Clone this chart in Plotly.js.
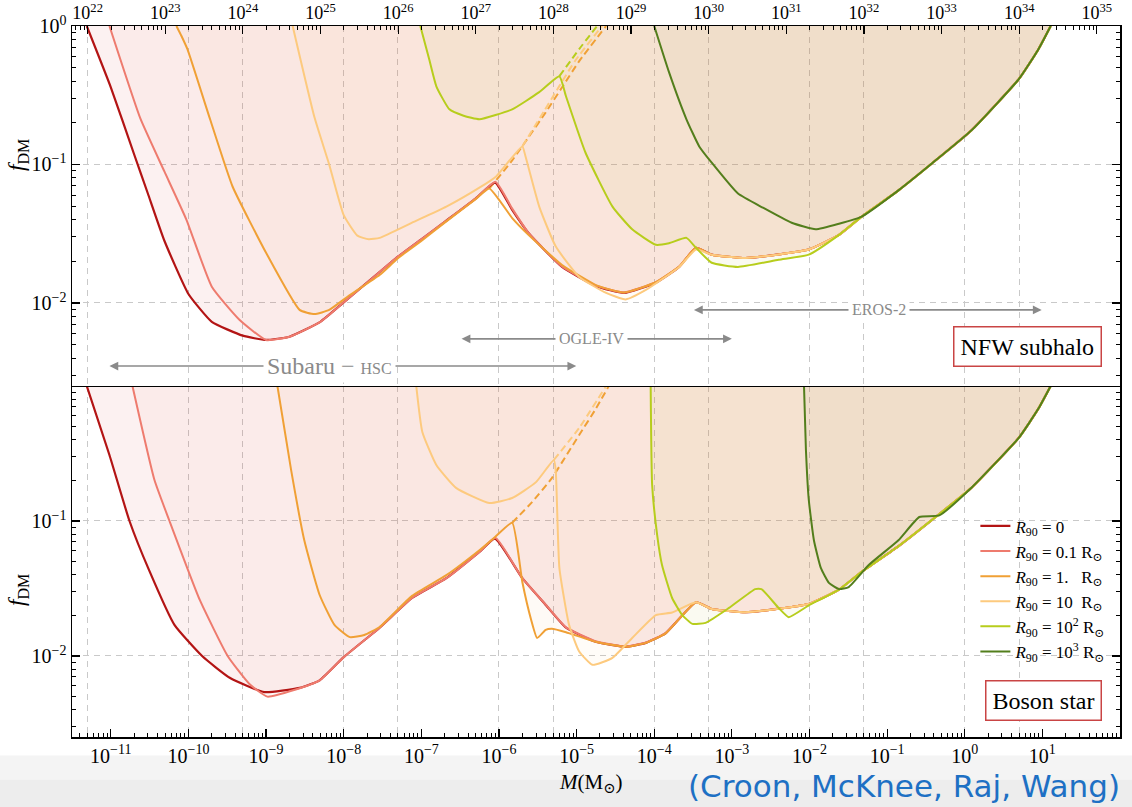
<!DOCTYPE html>
<html><head><meta charset="utf-8">
<script src="https://cdn.plot.ly/plotly-3.0.1.min.js"></script>
<style>html,body{margin:0;padding:0;background:#fff}#chart{width:1132px;height:807px}</style>
</head><body><div id="chart"></div>
<script>
// ---------- DATA (M in solar masses, f = f_DM) ----------
// shared EROS-2 tail of the constraints
const erosTailM = [5.5e-4, 1.5e-3, 4.0e-3, 9.8e-3, 2.4e-2, 4.7e-2, 0.14, 0.38, 1.23, 5.0, 8.9, 12.8];
const erosTailF = [0.0223, 0.0211, 0.0224, 0.0243, 0.031, 0.042, 0.065, 0.102, 0.177, 0.415, 0.68, 1];

// NFW subhalo (top panel)
const nfwR0M = [4.9e-12, 1e-11, 2e-11, 3e-11, 4.9e-11, 1e-10, 2e-10, 5e-10, 1e-9, 2e-9, 5e-9, 1e-8, 2e-8, 5e-8, 1e-7, 2e-7, 5e-7, 8.9e-7, 1.48e-6, 2.4e-6, 6.5e-6, 1.8e-5, 4.1e-5, 1.05e-4, 2.1e-4, 3.45e-4];
const nfwR0F = [1, 0.361, 0.118, 0.0617, 0.0281, 0.0116, 0.0073, 0.0058, 0.0054, 0.0057, 0.0073, 0.0101, 0.014, 0.0216, 0.0288, 0.0385, 0.0567, 0.074, 0.047, 0.032, 0.0182, 0.0132, 0.0118, 0.014, 0.0182, 0.025];
const nfwR01M = [9.6e-12, 2.4e-11, 4.9e-11, 9.4e-11, 2e-10, 4.5e-10, 1e-9, 2e-9, 5e-9, 1e-8, 2e-8, 5e-8, 1e-7, 2e-7, 5e-7, 9e-7, 1.48e-6, 2.4e-6, 6.5e-6, 1.8e-5, 4.1e-5, 1.05e-4, 2.1e-4, 3.45e-4];
const nfwR01F = [1, 0.215, 0.089, 0.040, 0.0131, 0.0076, 0.0054, 0.0057, 0.0073, 0.0101, 0.014, 0.0216, 0.0288, 0.0385, 0.0567, 0.075, 0.048, 0.032, 0.0183, 0.0133, 0.0119, 0.0141, 0.0183, 0.025];
const nfwR1M = [7e-11, 8.1e-11, 9.7e-11, 1.9e-10, 3.7e-10, 1e-9, 2.7e-9, 4.2e-9, 6.5e-9, 1.2e-8, 2.9e-8, 5e-8, 1e-7, 2e-7, 5e-7, 7.5e-7, 1.48e-6, 2.4e-6, 6.5e-6, 1.8e-5, 4.1e-5, 1.05e-4, 2.1e-4, 3.45e-4];
const nfwR1F = [1, 0.85, 0.68, 0.212, 0.0693, 0.023, 0.0089, 0.0083, 0.0089, 0.0114, 0.0159, 0.021, 0.028, 0.038, 0.056, 0.067, 0.041, 0.031, 0.0188, 0.0134, 0.0119, 0.0141, 0.0183, 0.025];
const nfwR1DashM = [7.5e-7, 1.48e-6, 2.4e-6, 4.0e-6, 6.5e-6, 1.08e-5, 2.4e-5];
const nfwR1DashF = [0.067, 0.107, 0.157, 0.238, 0.361, 0.557, 1];
const nfwR10M = [2.2e-9, 4.2e-9, 6.5e-9, 1e-8, 1.5e-8, 2.1e-8, 2.9e-8, 7.6e-8, 2.1e-7, 5.6e-7, 9.2e-7, 2e-6, 2.2e-6, 3.3e-6, 5.4e-6, 1.08e-5, 2.4e-5, 4.3e-5, 7.8e-5, 2.1e-4, 3.45e-4];
const nfwR10F = [1, 0.219, 0.1, 0.043, 0.0306, 0.0288, 0.0295, 0.038, 0.0496, 0.068, 0.082, 0.135, 0.114, 0.0496, 0.0255, 0.0154, 0.0118, 0.0106, 0.0124, 0.0182, 0.0243];
const nfwR10DashM = [2e-6, 3.8e-6, 9.5e-6, 2.13e-5];
const nfwR10DashF = [0.135, 0.242, 0.557, 1];
const nfwR100M = [9.7e-8, 1.26e-7, 1.56e-7, 2.3e-7, 3.5e-7, 5.6e-7, 1.48e-6, 3.3e-6, 6e-6, 7.3e-6, 1.3e-5, 2.9e-5, 5.2e-5, 1.05e-4, 1.55e-4, 2.6e-4, 3.45e-4, 5.5e-4, 1.2e-3, 4e-3, 9.8e-3, 2.4e-2, 4.7e-2, 0.14, 0.38, 1.23, 5.0, 8.9, 12.8];
const nfwR100F = [1, 0.577, 0.367, 0.25, 0.225, 0.212, 0.25, 0.333, 0.434, 0.311, 0.122, 0.0496, 0.034, 0.0263, 0.027, 0.0295, 0.025, 0.0195, 0.0182, 0.0205, 0.0223, 0.031, 0.042, 0.065, 0.102, 0.177, 0.415, 0.68, 1];
const nfwR100DashM = [6e-6, 1.08e-5, 1.84e-5];
const nfwR100DashF = [0.434, 0.681, 1];
const nfwR1000M = [1e-4, 1.55e-4, 2.6e-4, 3.8e-4, 5.5e-4, 1.2e-3, 2.5e-3, 5.9e-3, 1.2e-2, 2.4e-2, 4.7e-2, 0.14, 0.38, 1.23, 5.0, 8.9, 12.8];
const nfwR1000F = [1, 0.464, 0.212, 0.135, 0.103, 0.0616, 0.0488, 0.0379, 0.034, 0.0373, 0.042, 0.065, 0.102, 0.177, 0.415, 0.68, 1];

// Boson star (bottom panel)
const bsR0M = [4.9e-12, 9.6e-12, 1.74e-11, 3.1e-11, 6.6e-11, 1.5e-10, 3.4e-10, 9.5e-10, 2.7e-9, 4.9e-9, 1e-8, 2.9e-8, 7.6e-8, 2.1e-7, 5.6e-7, 8.9e-7, 2e-6, 4e-6, 7.3e-6, 1.8e-5, 4.3e-5, 7.8e-5, 1.4e-4, 3.45e-4];
const bsR0F = [1, 0.308, 0.1, 0.0434, 0.017, 0.01, 0.0069, 0.0054, 0.0058, 0.0066, 0.0098, 0.0162, 0.0269, 0.0377, 0.059, 0.074, 0.0377, 0.0239, 0.0162, 0.0127, 0.0117, 0.0125, 0.0147, 0.025];
const bsR01M = [1.9e-11, 3.65e-11, 5.7e-11, 1.4e-10, 3.2e-10, 6.1e-10, 1.04e-9, 2.3e-9, 4.9e-9, 1e-8, 2.9e-8, 7.6e-8, 2.1e-7, 5.6e-7, 9e-7, 2e-6, 4e-6, 7.3e-6, 1.8e-5, 4.3e-5, 7.8e-5, 1.4e-4, 3.45e-4];
const bsR01F = [1, 0.201, 0.1, 0.026, 0.01, 0.0062, 0.005, 0.0056, 0.0066, 0.0098, 0.0162, 0.0269, 0.0377, 0.059, 0.075, 0.0377, 0.024, 0.0163, 0.0128, 0.0118, 0.0126, 0.0148, 0.025];
const bsR1M = [1.4e-9, 2.1e-9, 3.1e-9, 4.9e-9, 7.6e-9, 1.2e-8, 1.84e-8, 2.9e-8, 7.6e-8, 2.1e-7, 5.6e-7, 8.9e-7, 1.48e-6, 2e-6, 2.6e-6, 3.1e-6, 4e-6, 4.8e-6, 7.3e-6, 1.8e-5, 4.3e-5, 7.8e-5, 1.4e-4, 3.45e-4];
const bsR1F = [1, 0.239, 0.0723, 0.0283, 0.017, 0.0138, 0.0143, 0.0164, 0.0279, 0.0397, 0.0608, 0.076, 0.097, 0.0353, 0.0185, 0.0136, 0.0156, 0.0159, 0.015, 0.0127, 0.0117, 0.0125, 0.0147, 0.025];
const bsR1DashM = [1.48e-6, 2.67e-6, 4.8e-6, 1.08e-5, 1.73e-5, 2.6e-5];
const bsR1DashF = [0.097, 0.138, 0.208, 0.434, 0.664, 1];
const bsR10M = [8.6e-8, 1.03e-7, 1.56e-7, 2.8e-7, 7.5e-7, 1.48e-6, 3e-6, 5.1e-6, 5.4e-6, 6e-6, 8e-6, 1.08e-5, 1.6e-5, 2.9e-5, 5.2e-5, 1.05e-4, 1.7e-4, 3.45e-4];
const bsR10F = [1, 0.456, 0.26, 0.176, 0.136, 0.148, 0.194, 0.283, 0.231, 0.045, 0.017, 0.0108, 0.0086, 0.0097, 0.0136, 0.0201, 0.021, 0.025];
const bsR10DashM = [5.1e-6, 1.08e-5, 2.4e-5];
const bsR10DashF = [0.283, 0.489, 1];
const bsR100M = [9.0e-5, 9.4e-5, 1.09e-4, 1.26e-4, 1.7e-4, 2.3e-4, 3.1e-4, 4.6e-4, 9.2e-4, 2.0e-3, 2.4e-3, 4.0e-3, 5.4e-3, 9.8e-3, 2.4e-2, 4.7e-2, 0.14, 0.38, 1.23, 5.0, 8.9, 12.8];
const bsR100F = [1, 0.185, 0.079, 0.0472, 0.0269, 0.0201, 0.0173, 0.0176, 0.0227, 0.0313, 0.0313, 0.0227, 0.0194, 0.0237, 0.031, 0.042, 0.065, 0.102, 0.177, 0.415, 0.68, 1];
const bsR1000M = [8.5e-3, 9.0e-3, 9.8e-3, 1.14e-2, 1.4e-2, 1.78e-2, 2.4e-2, 3.2e-2, 5.8e-2, 0.14, 0.26, 0.47, 1.23, 5.0, 8.9, 12.8];
const bsR1000F = [1, 0.336, 0.143, 0.072, 0.0449, 0.0348, 0.0313, 0.0324, 0.0472, 0.072, 0.107, 0.11, 0.177, 0.415, 0.68, 1];

// legend labels
const r90Labels = [
  '<i>R</i><sub>90</sub> = 0',
  '<i>R</i><sub>90</sub> = 0.1 R<sub>⊙</sub>',
  '<i>R</i><sub>90</sub> = 1.\u00a0\u00a0\u00a0R<sub>⊙</sub>',
  '<i>R</i><sub>90</sub> = 10\u00a0\u00a0R<sub>⊙</sub>',
  '<i>R</i><sub>90</sub> = 10<sup>2</sup> R<sub>⊙</sub>',
  '<i>R</i><sub>90</sub> = 10<sup>3</sup> R<sub>⊙</sub>'
];

// survey ranges (arrows)
const surveyNames = ['Subaru − <span style="font-size:16px">HSC</span>', 'OGLE-IV', 'EROS-2'];
const surveyMmin = [9.6e-12, 3.3e-7, 3.25e-4];
const surveyMmax = [9.9e-6, 1.0e-3, 9.8];
const surveyMlabel = [6.5e-9, 1.55e-5, 7.8e-2];
const surveyF = [0.0035, 0.0055, 0.0089];
const surveyFont = [24, 16, 16];

// tick exponents
const massTickExp = [-11, -10, -9, -8, -7, -6, -5, -4, -3, -2, -1, 0, 1, 2];
const gramTickExp = [22, 23, 24, 25, 26, 27, 28, 29, 30, 31, 32, 33, 34, 35];
const gridMass = [5e-12, 1e-10, 5e-10, 1e-8, 5e-8, 1e-6, 5e-6, 1e-4, 5e-4, 1e-2, 5e-2, 1, 5];
const log10MsunInGrams = 33.2987;

// ---------- STYLE ----------
const colors = ['#b31414', '#ee7b6e', '#f0a035', '#fdca7e', '#b7cd1c', '#537e1c'];
const fillColors = ['rgba(215,60,60,0.07)', 'rgba(235,120,100,0.045)', 'rgba(240,160,80,0.05)',
                    'rgba(250,200,120,0.05)', 'rgba(195,190,80,0.08)', 'rgba(130,125,70,0.04)'];
const serif = 'Liberation Serif, DejaVu Serif, serif';
const smooth = 0.45;

const topSeries = [
  {M: nfwR0M.concat(erosTailM), F: nfwR0F.concat(erosTailF)},
  {M: nfwR01M.concat(erosTailM), F: nfwR01F.concat(erosTailF)},
  {M: nfwR1M.concat(erosTailM), F: nfwR1F.concat(erosTailF)},
  {M: nfwR10M.concat(erosTailM), F: nfwR10F.concat(erosTailF)},
  {M: nfwR100M, F: nfwR100F},
  {M: nfwR1000M, F: nfwR1000F}
];
const topDashed = [
  {M: nfwR1DashM, F: nfwR1DashF, c: 2},
  {M: nfwR10DashM, F: nfwR10DashF, c: 3},
  {M: nfwR100DashM, F: nfwR100DashF, c: 4}
];
const botSeries = [
  {M: bsR0M.concat(erosTailM), F: bsR0F.concat(erosTailF)},
  {M: bsR01M.concat(erosTailM), F: bsR01F.concat(erosTailF)},
  {M: bsR1M.concat(erosTailM), F: bsR1F.concat(erosTailF)},
  {M: bsR10M.concat(erosTailM), F: bsR10F.concat(erosTailF)},
  {M: bsR100M, F: bsR100F},
  {M: bsR1000M, F: bsR1000F}
];
const botDashed = [
  {M: bsR1DashM, F: bsR1DashF, c: 2},
  {M: bsR10DashM, F: bsR10DashF, c: 3}
];

const panels = [
  {series: topSeries, dashed: topDashed, xa: 'x2', ya: 'y2', legend: false},
  {series: botSeries, dashed: botDashed, xa: 'x', ya: 'y', legend: true}
];

const traces = [];
panels.forEach(p => p.series.forEach((s, i) => traces.push({
  x: s.M, y: s.F, xaxis: p.xa, yaxis: p.ya, type: 'scatter', mode: 'lines',
  line: {width: 0, color: fillColors[i], shape: 'spline', smoothing: smooth}, fill: 'toself', fillcolor: fillColors[i],
  hoverinfo: 'skip', showlegend: false
})));
panels.forEach(p => p.dashed.forEach(d => traces.push({
  x: d.M, y: d.F, xaxis: p.xa, yaxis: p.ya, type: 'scatter', mode: 'lines',
  line: {width: 2, color: colors[d.c], dash: '7px,4px', shape: 'spline', smoothing: smooth}, hoverinfo: 'skip', showlegend: false
})));
panels.forEach(p => p.series.forEach((s, i) => traces.push({
  x: s.M, y: s.F, xaxis: p.xa, yaxis: p.ya, type: 'scatter', mode: 'lines',
  line: {width: i === 0 ? 2.2 : 2, color: colors[i], shape: 'spline', smoothing: smooth}, name: r90Labels[i],
  showlegend: p.legend, hoverinfo: 'skip'
})));
// helpers for overlay axes
traces.push({x: [null], y: [null], xaxis: 'x3', yaxis: 'y2', mode: 'lines', showlegend: false, hoverinfo: 'skip'});
traces.push({x: [null], y: [null], xaxis: 'x4', yaxis: 'y', mode: 'lines', showlegend: false, hoverinfo: 'skip'});

// ---------- AXES ----------
function pow10Label(e) { return '10<sup>' + (e < 0 ? '\u2212' + (-e) : e) + '</sup>'; }
function minorVals(e0, e1) { const v = []; for (let e = e0; e <= e1; e++) for (let k = 2; k <= 9; k++) v.push(k * Math.pow(10, e)); return v; }

const massRange = [-11.5, 2];
const gramRange = [massRange[0] + log10MsunInGrams, massRange[1] + log10MsunInGrams];
const tickFont = {family: serif, size: 20, color: '#000'};
const gridCol = '#c9c9c9';

const yCommon = {
  type: 'log', range: [-2.6, 0], showline: true, linecolor: '#000', linewidth: 1.5, mirror: 'ticks',
  ticks: 'inside', ticklen: 8, tickwidth: 1.2, tickcolor: '#000', tickfont: tickFont,
  showgrid: true, gridcolor: gridCol, griddash: '6px,5px', gridwidth: 1, zeroline: false,
  minor: {tickmode: 'array', tickvals: minorVals(-3, -1), ticks: 'inside', ticklen: 4, tickwidth: 1, tickcolor: '#000', showgrid: false}
};

const layout = {
  width: 1132, height: 807,
  margin: {l: 72, r: 12, t: 26, b: 70},
  paper_bgcolor: '#fff', plot_bgcolor: '#fff',
  font: {family: serif, color: '#000'},
  showlegend: true,
  legend: {x: 0.862, y: 0.3215, xanchor: 'left', yanchor: 'top', bgcolor: 'rgba(0,0,0,0)',
           font: {family: serif, size: 17, color: '#000'}, tracegroupgap: 0, itemwidth: 30},
  xaxis: {
    type: 'log', range: massRange, domain: [0, 1], anchor: 'y', showline: true, linecolor: '#000', linewidth: 1.5,
    ticks: 'inside', ticklen: 8, tickwidth: 1.2, tickcolor: '#000', tickfont: tickFont,
    tickmode: 'array', tickvals: massTickExp.map(e => Math.pow(10, e)), ticktext: massTickExp.map(pow10Label),
    showgrid: false, zeroline: false,
    minor: {tickmode: 'array', tickvals: minorVals(-12, 1), ticks: 'inside', ticklen: 4, tickwidth: 1, tickcolor: '#000', showgrid: false}
  },
  xaxis2: {
    type: 'log', matches: 'x', anchor: 'y2', domain: [0, 1], showline: true, linecolor: '#000', linewidth: 1.5,
    ticks: '', showticklabels: false, tickmode: 'array', tickvals: gridMass,
    showgrid: true, gridcolor: gridCol, griddash: '6px,5px', gridwidth: 1, zeroline: false
  },
  xaxis3: {
    type: 'log', overlaying: 'x2', anchor: 'y2', side: 'top', range: gramRange, autorange: false,
    showline: true, linecolor: '#000', linewidth: 1.5,
    ticks: 'inside', ticklen: 8, tickwidth: 1.2, tickcolor: '#000',
    tickfont: {family: serif, size: 18, color: '#000'}, ticklabelstandoff: -2,
    tickmode: 'array', tickvals: gramTickExp.map(e => Math.pow(10, e)), ticktext: gramTickExp.map(pow10Label),
    showgrid: false, zeroline: false,
    minor: {tickmode: 'array', tickvals: minorVals(21, 35), ticks: 'inside', ticklen: 4, tickwidth: 1, tickcolor: '#000', showgrid: false}
  },
  xaxis4: {
    type: 'log', overlaying: 'x', anchor: 'y', range: massRange, autorange: false,
    ticks: '', showticklabels: false, showline: false, tickmode: 'array', tickvals: gridMass,
    showgrid: true, gridcolor: gridCol, griddash: '6px,5px', gridwidth: 1, zeroline: false
  },
  yaxis: Object.assign({}, yCommon, {domain: [0, 0.4937], anchor: 'x', tickmode: 'array',
    tickvals: [0.1, 0.01], ticktext: [pow10Label(-1), pow10Label(-2)]}),
  yaxis2: Object.assign({}, yCommon, {domain: [0.4937, 1], anchor: 'x2', tickmode: 'array',
    tickvals: [1, 0.1, 0.01], ticktext: [pow10Label(0), pow10Label(-1), pow10Label(-2)]}),
  shapes: [
    {type: 'rect', xref: 'paper', yref: 'paper', x0: -0.1, x1: 1.02, y0: -0.0985, y1: -0.026, fillcolor: '#f4f4f4', line: {width: 0}, layer: 'below'},
    {type: 'rect', xref: 'paper', yref: 'paper', x0: -0.1, x1: 1.02, y0: -0.0985, y1: -0.06, fillcolor: '#ededed', line: {width: 0}, layer: 'below'}
  ],
  annotations: []
};

// survey arrows + labels
surveyNames.forEach((name, i) => {
  const y = Math.log10(surveyF[i]), xc = Math.log10(surveyMlabel[i]);
  [surveyMmin[i], surveyMmax[i]].forEach(m => layout.annotations.push({
    xref: 'x2', yref: 'y2', axref: 'x2', ayref: 'y2', x: Math.log10(m), y: y, ax: xc, ay: y,
    text: '', showarrow: true, arrowhead: 2, arrowsize: 1.1, arrowwidth: 1.6, arrowcolor: '#8a8a8a'
  }));
});
surveyNames.forEach((name, i) => layout.annotations.push({
  xref: 'x2', yref: 'y2', x: Math.log10(surveyMlabel[i]), y: Math.log10(surveyF[i]),
  xanchor: 'center', yanchor: 'middle',
  text: name, showarrow: false, bgcolor: '#fff', borderpad: 3,
  font: {family: serif, size: surveyFont[i], color: '#8a8a8a'}
}));
// panel labels and titles
layout.annotations.push(
  {xref: 'paper', yref: 'paper', x: 0.9122, y: 0.5492, xanchor: 'center', yanchor: 'middle', text: 'NFW subhalo', showarrow: false,
   bgcolor: '#fff', bordercolor: '#c94444', borderwidth: 1.5, borderpad: 6, font: {family: serif, size: 24, color: '#000'}},
  {xref: 'paper', yref: 'paper', x: 0.927, y: 0.052, xanchor: 'center', yanchor: 'middle', text: 'Boson star', showarrow: false,
   bgcolor: '#fff', bordercolor: '#c94444', borderwidth: 1.5, borderpad: 6, font: {family: serif, size: 24, color: '#000'}},
  {xref: 'paper', yref: 'paper', x: -0.0515, y: 0.8186, xanchor: 'center', yanchor: 'middle', text: '<i>f</i><sub>DM</sub>', textangle: -90, showarrow: false,
   font: {family: serif, size: 23, color: '#000'}},
  {xref: 'paper', yref: 'paper', x: -0.0515, y: 0.2068, xanchor: 'center', yanchor: 'middle', text: '<i>f</i><sub>DM</sub>', textangle: -90, showarrow: false,
   font: {family: serif, size: 23, color: '#000'}},
  {xref: 'paper', yref: 'paper', x: 0.4943, y: -0.0647, xanchor: 'center', yanchor: 'middle', text: '<i>M</i>(M<sub>⊙</sub>)', showarrow: false,
   font: {family: serif, size: 21, color: '#000'}},
  {xref: 'paper', yref: 'paper', x: 1.0019, y: -0.0689, xanchor: 'right', yanchor: 'middle', text: '(Croon, McKnee, Raj, Wang)', showarrow: false,
   font: {family: 'DejaVu Sans, Noto Sans, sans-serif', size: 31, color: '#1d70c4'}}
);

Plotly.newPlot('chart', traces, layout, {staticPlot: true, displayModeBar: false});
</script></body></html>
